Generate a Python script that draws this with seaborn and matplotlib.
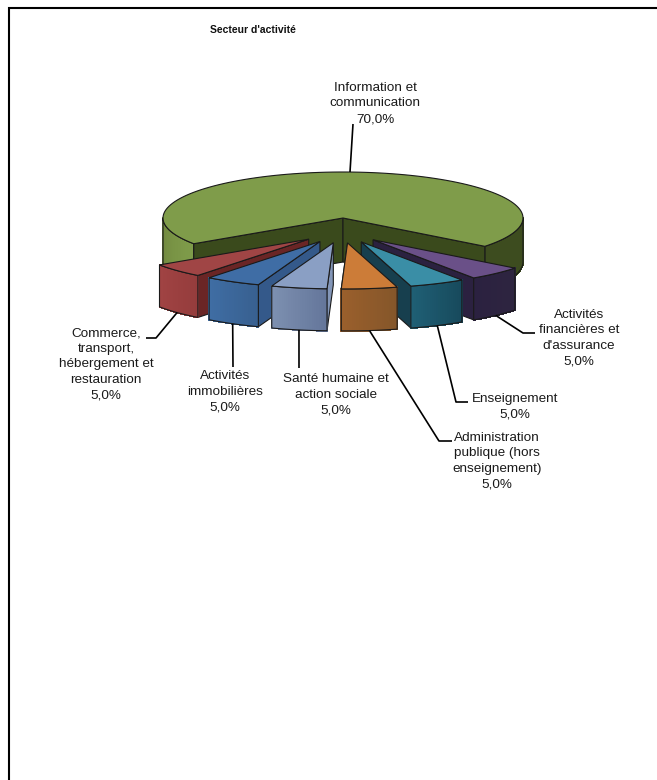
import numpy as np
import matplotlib
matplotlib.use("Agg")
import matplotlib.pyplot as plt
import seaborn as sns

title = "Secteur d'activité"
sectors = [
    "Activités\nfinancières et\nd'assurance",
    "Enseignement",
    "Administration\npublique (hors\nenseignement)",
    "Santé humaine et\naction sociale",
    "Activités\nimmobilières",
    "Commerce,\ntransport,\nhébergement et\nrestauration",
    "Information et\ncommunication",
]
shares = [5.0, 5.0, 5.0, 5.0, 5.0, 5.0, 70.0]

top_colors = ["#6a5088", "#3a8ea6", "#cc7c38", "#8a9fc4", "#3f6da5", "#a04545", "#7f9c4a"]
wall_left = ["#2b2140", "#1f5f74", "#9a5f2c", "#7c8fb0", "#3f6da3", "#a04343", "#7f9c4a"]
wall_right = ["#2e2540", "#17495c", "#84562a", "#64769a", "#386090", "#953c3c", "#3d4c1f"]
face_colors = ["#2b2140", "#173f4e", "#84562a", "#8396b8", "#34598a", "#6a2525", "#3a4a1c"]

# pie geometry, in pixels
CX, CY = 343, 218
RX, RY = 180, 46
DEPTH = 44
SLICE_DEPTH = 42
START = 38
OUTLINE = "#1a1a1a"

# label anchor and leader points on the label side
label_xy = [(579, 338), (515, 406.5), (497, 461), (336, 395), (225, 392), (106, 364.5), (375, 103.5)]
leader_mid = [(523, 333), (456, 402), (439, 441), (299, 368), (233, 367), (156, 338), (353, 124)]
leader_end = [(535, 333), (468, 402), (452, 441), None, None, (146, 338), None]


def rim(cx, cy, deg):
    a = np.radians(deg)
    return cx + RX * np.cos(a), cy + RY * np.sin(a)


def pulled_centre(deg):
    # front slices move less in y than a flat ellipse would give
    m = np.radians(deg)
    return CX - 1 + 45.5 * np.cos(m), CY + 13 + 12 * np.sin(m)


def wall(ax, cx, cy, a0, a1, c0, c1, depth):
    # outer side of a slice, in thin strips for the gradient
    edges = np.linspace(a0, a1, 25)
    colors = sns.blend_palette([c0, c1], 24)
    for i in range(24):
        x, y = rim(cx, cy, np.linspace(edges[i], edges[i + 1], 3))
        ax.fill(np.r_[x, x[::-1]], np.r_[y, y[::-1] + depth], color=colors[i], lw=0.6, antialiased=False)
    x, y = rim(cx, cy, np.linspace(a0, a1, 40))
    ax.fill(np.r_[x, x[::-1]], np.r_[y, y[::-1] + depth], fc="none", ec=OUTLINE, lw=0.8)


def cut_face(ax, cx, cy, deg, color, depth):
    x, y = rim(cx, cy, deg)
    ax.fill([cx, x, x, cx], [cy, y, y + depth, cy + depth], fc=color, ec=OUTLINE, lw=0.8)


def top_face(ax, cx, cy, a0, a1, color):
    x, y = rim(cx, cy, np.linspace(a0, a1, 120))
    ax.fill(np.r_[cx, x], np.r_[cy, y], fc=color, ec=OUTLINE, lw=0.8)


sns.set_theme(style="white")
plt.rcParams["font.family"] = ["Liberation Sans", "DejaVu Sans"]

fig, ax = plt.subplots(figsize=(6.57, 7.8), dpi=100)
ax.set_position([0, 0, 1, 1])
ax.set_xlim(0, 657)
ax.set_ylim(780, 0)
ax.axis("off")

# only the top and left of the frame are in the picture
ax.plot([9, 9, 657], [780, 8, 8], color="black", lw=1.5, solid_joinstyle="miter")
ax.text(253, 30, title, fontsize=7.5, fontweight="bold", ha="center", va="center", color="#111111")

bounds = START + np.r_[0, np.cumsum(shares)] * 3.6
spans = list(zip(bounds[:-1], bounds[1:]))

# big slice stays in place
a0, a1 = spans[6]
wall(ax, CX, CY, a0, 180, wall_left[6], "#71893f", DEPTH)
wall(ax, CX, CY, 360, a1, wall_right[6], wall_right[6], DEPTH)
cut_face(ax, CX, CY, a0, face_colors[6], DEPTH)
cut_face(ax, CX, CY, a1, face_colors[6], DEPTH)
top_face(ax, CX, CY, a0, a1, top_colors[6])

# pulled slices, back ones first
for i in [5, 4, 3, 0, 1, 2]:
    a0, a1 = spans[i]
    mid = (a0 + a1) / 2
    sx, sy = pulled_centre(mid)
    cut_face(ax, sx, sy, a1 if mid < 90 else a0, face_colors[i], SLICE_DEPTH)
    wall(ax, sx, sy, a0, a1, wall_right[i], wall_left[i], SLICE_DEPTH)
    top_face(ax, sx, sy, a0, a1, top_colors[i])

# labels and leaders
for i, name in enumerate(sectors):
    a0, a1 = spans[i]
    mid = (a0 + a1) / 2
    if i == 6:
        # leader meets the back rim
        px, py = CX + 7, CY - RY
    else:
        px, py = rim(*pulled_centre(mid), mid)
        py += SLICE_DEPTH
    xs, ys = [px, leader_mid[i][0]], [py, leader_mid[i][1]]
    if leader_end[i] is not None:
        xs.append(leader_end[i][0])
        ys.append(leader_end[i][1])
    ax.plot(xs, ys, color="black", lw=1.2, solid_capstyle="butt")
    pct = f"{shares[i]:.1f}%".replace(".", ",")
    ax.text(*label_xy[i], f"{name}\n{pct}", fontsize=9.7, ha="center", va="center",
            color="#1a1a1a", linespacing=1.39)

fig.savefig("out.png", dpi=100)
